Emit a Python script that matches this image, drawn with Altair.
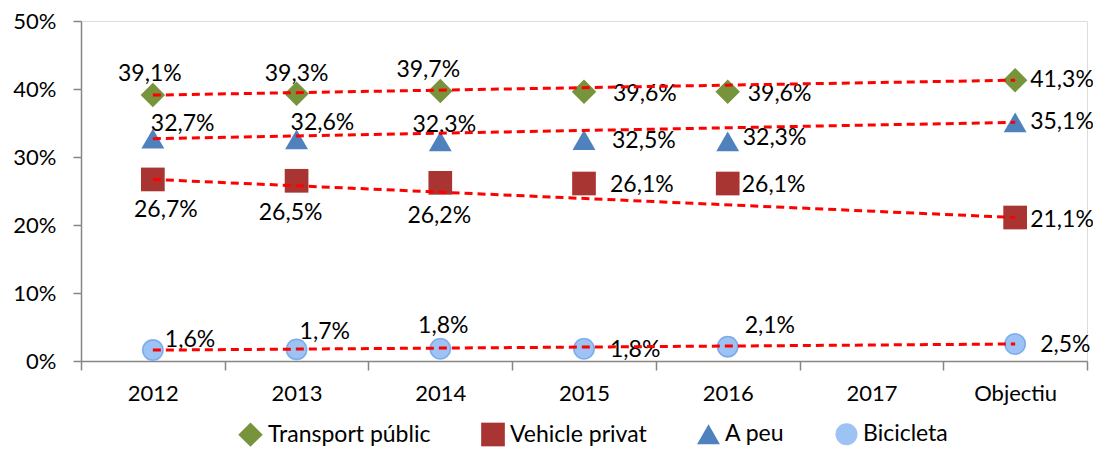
import altair as alt
import pandas as pd

# ---- data ----
categories = ["2012", "2013", "2014", "2015", "2016", "2017", "Objectiu"]
series = ["Transport públic", "Vehicle privat", "A peu", "Bicicleta"]
transport = [39.1, 39.3, 39.7, 39.6, 39.6, None, 41.3]
vehicle = [26.7, 26.5, 26.2, 26.1, 26.1, None, 21.1]
a_peu = [32.7, 32.6, 32.3, 32.5, 32.3, None, 35.1]
bicicleta = [1.6, 1.7, 1.8, 1.8, 2.1, None, 2.5]
y_ticks = [0, 0.1, 0.2, 0.3, 0.4, 0.5]

# ---- styles ----
colors = ["#77933C", "#A93532", "#4F81BD", "#9DC3F5"]
shapes = ["diamond", "square", "triangle-up", "circle"]
sizes = [600, 484, 600, 400]
FONT = "Lato"

# label placement (align, dx, dy) per series/category
label_pos = {
    "Transport públic": [("center", -3, -21), ("center", 0, -20), ("center", -12, -21),
                         ("left", 29, 2), ("left", 20, 2), None, ("left", 15, 0)],
    "Vehicle privat": [("center", 13, 31), ("center", -6, 32), ("center", -1, 33),
                       ("left", 26, 1), ("left", 14, 1), None, ("left", 15, 2)],
    "A peu": [("left", -2, -15), ("left", -6, -16), ("center", 4, -16),
              ("left", 28, 1), ("left", 15, -3), None, ("left", 15, 0)],
    "Bicicleta": [("left", 12, -10), ("left", 3, -17), ("center", 3, -23),
                  ("left", 26, 1), ("left", 17, -21), None, ("left", 25, 1)],
}

rows = []
for s, vals in zip(series, [transport, vehicle, a_peu, bicicleta]):
    for c, v in zip(categories, vals):
        if v is not None:
            rows.append({"series": s, "cat": c, "value": v / 100,
                         "label": f"{v:.1f}".replace(".", ",") + "%"})
df = pd.DataFrame(rows)

base = alt.Chart(df)

x_enc = alt.X("cat:N", scale=alt.Scale(type="band", domain=categories, paddingInner=0, paddingOuter=0),
              axis=alt.Axis(title=None, labelAngle=0, tickBand="extent", tickSize=9, labelPadding=13,
                            domainColor="#868686", tickColor="#868686", domainWidth=1.5, tickWidth=1.5,
                            labelFont=FONT, labelFontSize=22, labelColor="#000000", grid=False))
y_enc = alt.Y("value:Q", scale=alt.Scale(domain=[0, 0.5], nice=False),
              axis=alt.Axis(title=None, format="%", values=y_ticks, tickSize=8, labelPadding=17,
                            domainColor="#868686", tickColor="#868686", domainWidth=1.5, tickWidth=1.5,
                            labelFont=FONT, labelFontSize=22, labelColor="#000000", grid=False))

legend = alt.Legend(title=None, orient="none", direction="horizontal", legendX=157, legendY=401,
                    labelFont=FONT, labelFontSize=23, labelColor="#000000", symbolSize=250,
                    labelOffset=5, columnPadding=50, padding=0, symbolStrokeWidth=0, labelLimit=400)

points = base.mark_point(filled=True, opacity=1).encode(
    x=x_enc, y=y_enc,
    color=alt.Color("series:N", scale=alt.Scale(domain=series, range=colors), legend=legend),
    shape=alt.Shape("series:N", scale=alt.Scale(domain=series, range=shapes), legend=legend),
    size=alt.Size("series:N", scale=alt.Scale(domain=series, range=sizes), legend=None),
)

circle_outline = base.transform_filter(alt.datum.series == "Bicicleta").mark_point(
    filled=False, shape="circle", size=400, color="#7BA9E6", strokeWidth=1.2, opacity=1
).encode(x=x_enc, y=y_enc)

trend = base.transform_filter(
    alt.FieldOneOfPredicate(field="cat", oneOf=[categories[0], categories[-1]])
).mark_line(color="#FF0000", strokeDash=[8, 5], strokeWidth=3).encode(
    x=x_enc, y=y_enc, detail="series:N"
)

texts = []
for s in series:
    for c, pos in zip(categories, label_pos[s]):
        if pos is None:
            continue
        align, dx, dy = pos
        texts.append(
            base.transform_filter((alt.datum.series == s) & (alt.datum.cat == c)).mark_text(
                align=align, baseline="middle", dx=dx, dy=dy, font=FONT, fontSize=23, color="#000000"
            ).encode(x=x_enc, y=y_enc, text="label:N")
        )

chart = alt.layer(points, circle_outline, *texts, trend).properties(
    width=1006, height=340,
    autosize=alt.AutoSizeParams(type="none"),
    padding={"left": 73, "top": 13, "right": 6, "bottom": 89},
).configure_view(stroke=None).configure(background="#ffffff")

chart.save("out.html", embed_options={"renderer": "svg", "actions": False})
